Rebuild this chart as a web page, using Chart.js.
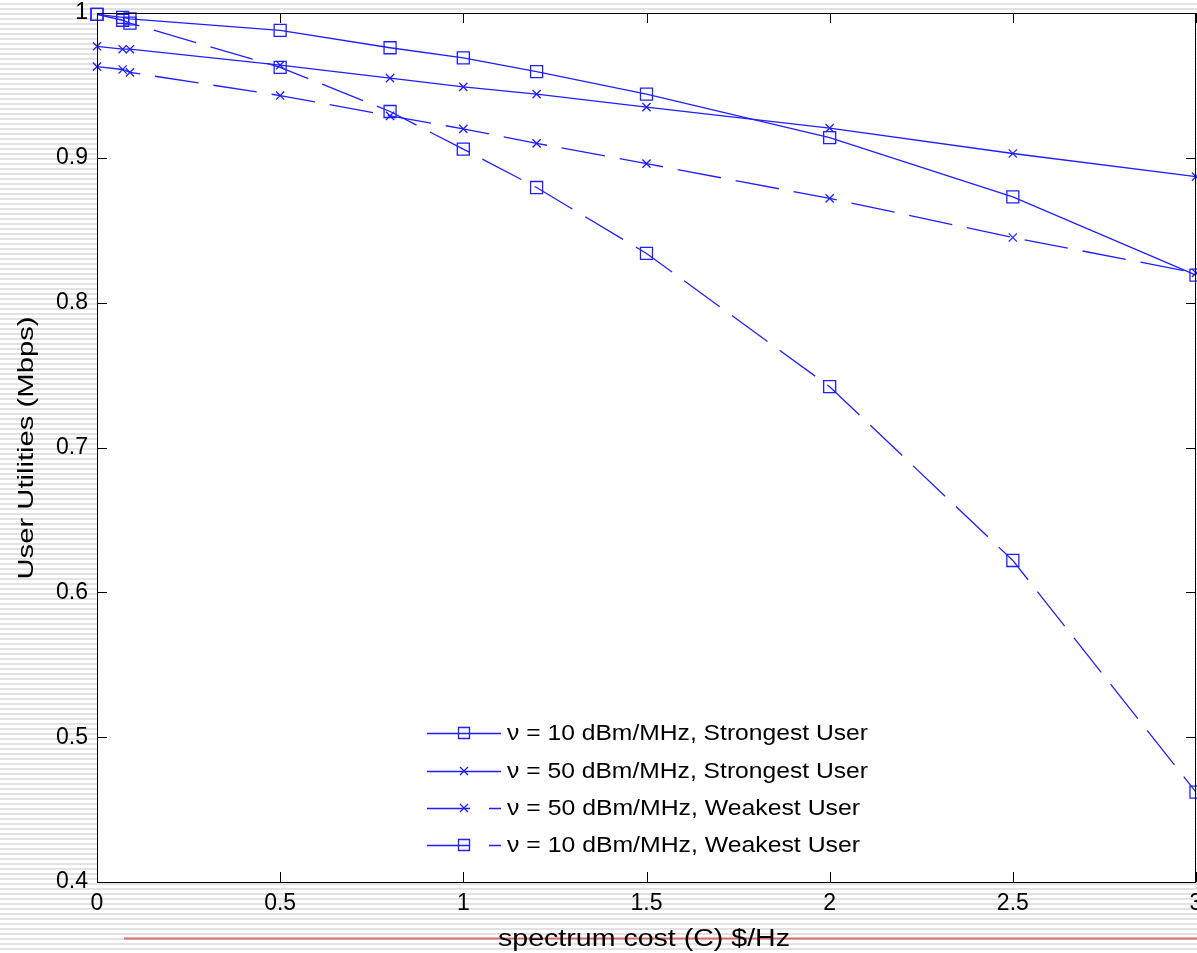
<!DOCTYPE html>
<html>
<head>
<meta charset="utf-8">
<script src="https://cdn.jsdelivr.net/npm/chart.js@4.4.0/dist/chart.umd.min.js"></script>
<style>
  html, body { margin:0; padding:0; }
  body {
    width:1197px; height:953px; overflow:hidden;
    background: repeating-linear-gradient(to bottom, #ffffff 0px, #ffffff 3px, #e2e2e2 3px, #e2e2e2 5px);
  }
  #wrap { position:relative; width:1197px; height:953px; }
</style>
</head>
<body>
<div id="wrap"><canvas id="chart"></canvas></div>
<script>
// spectrum cost values on the x axis
const costs = [0, 0.07, 0.09, 0.5, 0.8, 1, 1.2, 1.5, 2, 2.5, 3];
// user utilities (Mbps)
const strong10 = [0.999, 0.997, 0.996, 0.988, 0.976, 0.969, 0.9595, 0.944, 0.914, 0.873, 0.819];
const strong50 = [0.977, 0.975, 0.975, 0.964, 0.955, 0.949, 0.944, 0.935, 0.9205, 0.903, 0.887];
const weak50   = [0.963, 0.961, 0.959, 0.943, 0.929, 0.920, 0.910, 0.896, 0.872, 0.845, 0.8205];
const weak10   = [0.999, 0.995, 0.993, 0.9625, 0.932, 0.906, 0.8795, 0.834, 0.742, 0.622, 0.462];
const seriesLabels = [
  'ν = 10 dBm/MHz, Strongest User',
  'ν = 50 dBm/MHz, Strongest User',
  'ν = 50 dBm/MHz, Weakest User',
  'ν = 10 dBm/MHz, Weakest User'
];
const xTicks = [0, 0.5, 1, 1.5, 2, 2.5, 3];
const yTicks = [0.4, 0.5, 0.6, 0.7, 0.8, 0.9, 1];
const xTitle = 'spectrum cost (C) $/Hz';
const yTitle = 'User Utilities (Mbps)';

const BLUE = '#1f1fff';
const DASH = [44, 15];
const FONT = '"Liberation Sans", Arial, Helvetica, sans-serif';

function pts(ys){ return costs.map((x,i)=>({x, y: ys[i]})); }

function ds(label, ys, marker, dashed){
  return {
    label, data: pts(ys),
    borderColor: BLUE, borderWidth: 1.3, borderDash: dashed ? DASH : [],
    pointStyle: marker, pointRadius: marker === 'rect' ? 8.5 : 5.8,
    pointBorderColor: BLUE, pointBackgroundColor: 'rgba(0,0,0,0)', pointBorderWidth: 1.3,
    fill: false, tension: 0, clip: false
  };
}

// no auto padding from tick labels, the plot box is fixed
function noPad(s){ s.paddingTop = 0; s.paddingBottom = 0; s.paddingLeft = 0; s.paddingRight = 0; }

function drawScaledText(ctx, text, x, y, size, targetW){
  ctx.save();
  ctx.font = `${size}px ${FONT}`;
  const w = ctx.measureText(text).width;
  ctx.translate(x, y);
  ctx.scale(targetW / w, 1);
  ctx.textAlign = 'center';
  ctx.textBaseline = 'alphabetic';
  ctx.fillStyle = '#000';
  ctx.fillText(text, 0, 0);
  ctx.restore();
}

const matlabLook = {
  id: 'matlabLook',
  beforeDraw(chart){
    const {ctx, chartArea:a} = chart;
    ctx.save();
    ctx.fillStyle = '#fff';
    ctx.fillRect(a.left, a.top, a.right - a.left, a.bottom - a.top);
    ctx.restore();
  },
  afterDraw(chart){
    const {ctx, chartArea:a, scales} = chart;
    ctx.save();
    // box + inward ticks
    ctx.strokeStyle = '#000'; ctx.lineWidth = 1;
    ctx.strokeRect(a.left + 0.5, a.top + 0.5, a.right - a.left - 1, a.bottom - a.top);
    ctx.beginPath();
    xTicks.forEach(v=>{
      const px = Math.round(scales.x.getPixelForValue(v)) + 0.5;
      ctx.moveTo(px, a.bottom); ctx.lineTo(px, a.bottom - 10);
      ctx.moveTo(px, a.top); ctx.lineTo(px, a.top + 10);
    });
    yTicks.forEach(v=>{
      const py = Math.round(scales.y.getPixelForValue(v)) + 0.5;
      ctx.moveTo(a.left, py); ctx.lineTo(a.left + 10, py);
      ctx.moveTo(a.right, py); ctx.lineTo(a.right - 10, py);
    });
    ctx.stroke();

    // legend
    const rows = [733, 771, 808, 845];
    const markers = ['rect', 'crossRot', 'crossRot', 'rect'];
    const dashed = [false, false, true, true];
    rows.forEach((ry, i)=>{
      ctx.strokeStyle = BLUE; ctx.lineWidth = 1.3;
      ctx.setLineDash(dashed[i] ? [43, 19] : []);
      ctx.beginPath(); ctx.moveTo(427, ry + 0.5); ctx.lineTo(501, ry + 0.5); ctx.stroke();
      ctx.setLineDash([]);
      ctx.beginPath();
      if(markers[i] === 'rect'){
        ctx.rect(458.5, ry - 5.5, 11, 11);
      } else {
        ctx.moveTo(460, ry - 4); ctx.lineTo(468, ry + 4);
        ctx.moveTo(460, ry + 4); ctx.lineTo(468, ry - 4);
      }
      ctx.stroke();
      ctx.save();
      ctx.font = `22px ${FONT}`;
      const w = ctx.measureText(seriesLabels[i]).width;
      const target = i === 0 || i === 1 ? 361 : 353;
      ctx.translate(507, ry);
      ctx.scale(target / w, 1);
      ctx.fillStyle = '#000'; ctx.textAlign = 'left'; ctx.textBaseline = 'middle';
      ctx.fillText(seriesLabels[i], 0, 1);
      ctx.restore();
    });

    // red slide rule line under the plot
    ctx.strokeStyle = '#d96b6d'; ctx.lineWidth = 2;
    ctx.beginPath(); ctx.moveTo(124, 938.5); ctx.lineTo(1197, 938.5); ctx.stroke();

    // axis titles
    drawScaledText(ctx, xTitle, 644, 946, 23, 292);
    ctx.save();
    ctx.translate(33, 448);
    ctx.rotate(-Math.PI / 2);
    drawScaledText(ctx, yTitle, 0, 0, 22, 263);
    ctx.restore();
    ctx.restore();
  }
};

new Chart(document.getElementById('chart'), {
  type: 'line',
  data: {
    datasets: [
      ds(seriesLabels[0], strong10, 'rect', false),
      ds(seriesLabels[1], strong50, 'crossRot', false),
      ds(seriesLabels[2], weak50, 'crossRot', true),
      ds(seriesLabels[3], weak10, 'rect', true)
    ]
  },
  options: {
    responsive: true, maintainAspectRatio: false, animation: false,
    layout: { autoPadding: false, padding: { top: 13, right: 1, left: 0, bottom: 0 } },
    plugins: { legend: { display: false }, tooltip: { enabled: false } },
    scales: {
      x: {
        type: 'linear', min: 0, max: 3,
        afterFit(s){ s.height = 71; noPad(s); },
        afterBuildTicks(s){ s.ticks = xTicks.map(v=>({value: v})); },
        grid: { display: false, drawTicks: false }, border: { display: false },
        ticks: { color: '#000', padding: 8, maxRotation: 0, autoSkip: false,
                 font: { family: FONT, size: 23 }, callback: v => String(v) }
      },
      y: {
        type: 'linear', min: 0.4, max: 1,
        afterFit(s){ s.width = 97; noPad(s); },
        afterBuildTicks(s){ s.ticks = yTicks.map(v=>({value: v})); },
        grid: { display: false, drawTicks: false }, border: { display: false },
        ticks: { color: '#000', padding: 9, autoSkip: false,
                 font: { family: FONT, size: 23 }, callback: v => String(v) }
      }
    }
  },
  plugins: [matlabLook]
});
</script>
</body>
</html>
